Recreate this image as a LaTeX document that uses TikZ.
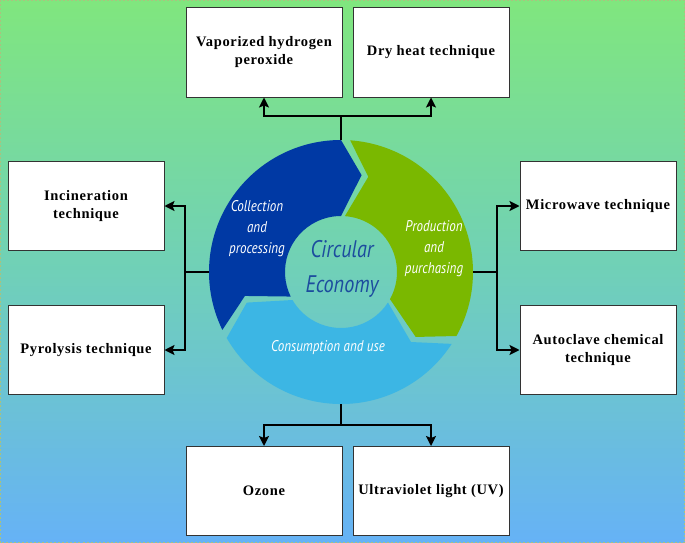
\documentclass[tikz,border=0pt]{standalone}
\usepackage{fontspec}
\setmainfont[LetterSpace=4.5]{Liberation Serif}
\newfontfamily\segfont[FakeStretch=0.84]{PT Sans}
\usetikzlibrary{arrows.meta,calc}
\definecolor{bgtop}{HTML}{80E67E}
\definecolor{bgmid}{HTML}{70D0B8}
\definecolor{bgbot}{HTML}{66B2F6}
\definecolor{segblue}{HTML}{0039A4}
\definecolor{seggreen}{HTML}{7AB800}
\definecolor{seglight}{HTML}{3CB6E4}
\definecolor{cetext}{HTML}{1C4C9E}
\definecolor{edgecol}{HTML}{A9C27E}
\begin{document}
\begin{tikzpicture}[x=1pt,y=-1pt,
  box/.style={draw=black!80, line width=1pt, fill=white, minimum width=156pt,
    minimum height=89pt, inner sep=0pt, align=center,
    font=\bfseries\fontsize{14.5}{18}\selectfont},
  conn/.style={line width=1.6pt, black},
  arr/.style={conn, -{Stealth[length=10pt,width=10pt,inset=2pt]}},
  seglabel/.style={text=white, align=center, inner sep=0pt,
    font=\segfont\itshape\fontsize{15.5}{21}\selectfont},
  celabel/.style={text=cetext, align=center, inner sep=0pt,
    font=\segfont\itshape\fontsize{24}{35}\selectfont}]
\useasboundingbox (0,0) rectangle (685,543);
\shade[top color=bgtop, bottom color=bgbot, middle color=bgmid] (0,0) rectangle (685,543);
\draw[edgecol, line width=1pt, dash pattern=on 2pt off 2pt] (0.5,0.5) rectangle (684.5,542.5);

% boxes
\node[box] (vhp) at (264,52.5) {Vaporized hydrogen\\peroxide};
\node[box] (dry) at (431,52.5) {Dry heat technique};
\node[box] (inc) at (86,206) {Incineration\\technique};
\node[box] (pyr) at (86,350) {Pyrolysis technique};
\node[box] (mic) at (598,206) {Microwave technique};
\node[box] (aut) at (598,350) {Autoclave chemical\\technique};
\node[box] (ozo) at (264,491) {Ozone};
\node[box] (uvl) at (431,491) {Ultraviolet light (UV)};

% ring
\node[circle, minimum size=264pt, inner sep=0pt] (ring) at (341,272) {};
\begin{scope}[shift={(ring.center)}, yscale=-1]
  \newcommand\ringseg[3]{%
    \fill[#3] (#1:132) -- (#1-12:99) -- (#1:56)
      arc[start angle=#1, end angle=#2, radius=56]
      -- (#2-12:99) -- (#2:132)
      arc[start angle=#2, end angle=#1, radius=132] -- cycle;}
  \ringseg{206}{90}{segblue}
  \ringseg{86}{-29}{seggreen}
  \ringseg{-33}{-150}{seglight}
\end{scope}

\node[seglabel] (lcol) at (257,229) {Collection\\and\\processing};
\node[seglabel] (lpro) at (434,249) {Production\\and\\purchasing};
\node[seglabel] (lcon) at (328,348) {Consumption and use};
\node[celabel] (lce) at (342,269) {Circular\\Economy};

% connectors
\coordinate (jt) at (ring.north |- 0,116);
\coordinate (jb) at (ring.south |- 0,425);
\coordinate (jl) at (ring.west -| 185,0);
\coordinate (jr) at (ring.east -| 497,0);
\draw[conn] (ring.north) -- (jt);
\draw[arr] (jt) -| (vhp.south);
\draw[arr] (jt) -| (dry.south);
\draw[conn] (ring.south) -- (jb);
\draw[arr] (jb) -| (ozo.north);
\draw[arr] (jb) -| (uvl.north);
\draw[conn] (ring.west) -- (jl);
\draw[arr] (jl) |- (inc.east);
\draw[arr] (jl) |- (pyr.east);
\draw[conn] (ring.east) -- (jr);
\draw[arr] (jr) |- (mic.west);
\draw[arr] (jr) |- (aut.west);
\end{tikzpicture}
\end{document}
